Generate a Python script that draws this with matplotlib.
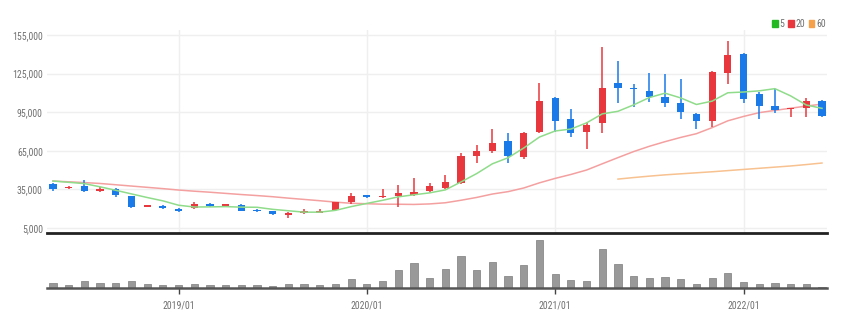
import numpy as np
import pandas as pd
import matplotlib
matplotlib.use("Agg")
import matplotlib.pyplot as plt
from matplotlib.patches import Patch

plt.rcParams['font.family'] = ['DejaVu Sans Condensed', 'Liberation Sans Narrow', 'Roboto Condensed', 'DejaVu Sans']

# monthly candles, 2018/05 - 2022/06
months = pd.date_range('2018-05-01', periods=50, freq='MS')
opens = [39000, 36000, 38000, 34000, 35000, 30000, 21500, 22000, 20000, 20500,
         23500, 22000, 23000, 19000, 18000, 15000, 16500, 17000, 19000, 25000,
         30500, 29000, 29500, 30500, 34000, 36000, 40000, 61000, 65000, 73000,
         60500, 79500, 106000, 89500, 79500, 86500, 118000, 114000, 111500, 107000,
         102000, 93500, 88000, 125500, 140000, 109000, 99500, 97500, 98000, 103500]
closes = [35500, 36500, 33500, 35500, 30500, 21500, 22500, 20500, 18500, 23500,
          22000, 23500, 18500, 18000, 15500, 16500, 18000, 18500, 25000, 30000,
          29000, 30000, 32000, 33000, 37500, 40500, 61000, 64500, 71000, 61000,
          78500, 103500, 88000, 78500, 85000, 113500, 113500, 113000, 107000, 102000,
          95000, 88000, 126000, 139500, 105000, 99500, 96500, 98000, 104000, 92000]
highs = [40000, 37500, 42000, 36500, 36000, 30000, 23000, 22500, 20500, 25000,
         24500, 24000, 24000, 19500, 18500, 17500, 20000, 19500, 25500, 32000,
         31000, 35000, 38500, 44000, 40000, 46000, 63000, 69500, 82000, 78500,
         80000, 118000, 107000, 97500, 87500, 145500, 134500, 117000, 125500, 124500,
         121000, 94000, 127000, 150500, 141000, 111000, 113000, 98500, 106000, 104500]
lows = [33500, 35000, 33000, 33000, 29000, 20500, 21000, 20000, 17500, 20000,
        21500, 22000, 18000, 17500, 15000, 13000, 16000, 16500, 18500, 24000,
        28500, 28000, 21500, 30000, 33000, 35000, 39000, 55500, 63000, 55500,
        58500, 78500, 79500, 75500, 66500, 79000, 102000, 99000, 103000, 99000,
        89500, 82000, 83500, 117000, 102000, 89500, 94000, 91000, 91000, 91500]
volumes = [5.0, 3.3, 6.7, 5.0, 5.0, 7.3, 4.0, 2.7, 2.7, 3.7,
           2.7, 2.7, 2.7, 2.7, 2.3, 4.0, 4.0, 2.7, 4.0, 8.7,
           4.0, 7.3, 18.3, 25.0, 10.0, 19.0, 31.7, 18.3, 26.0, 12.3,
           23.3, 48.3, 14.0, 8.0, 7.3, 39.0, 24.3, 11.7, 10.0, 10.7,
           8.7, 4.3, 9.7, 14.7, 6.0, 4.3, 5.3, 4.0, 4.0, 1.0]

# moving averages as shown on the chart
ma5 = [41500, 40500, 39500, 37000, 34300, 31500, 28700, 26100, 22700, 21300,
       21400, 21600, 21200, 21100, 19500, 18400, 17300, 17300, 18700, 21600,
       24100, 26500, 29200, 30800, 32300, 34600, 40800, 47300, 54900, 59600,
       67200, 75700, 80400, 81900, 86700, 93700, 95700, 100700, 106400, 109800,
       106100, 101000, 103600, 110100, 110700, 111600, 113300, 107700, 100600, 98000]
ma20 = [41500, 40900, 40300, 39600, 38600, 37600, 36600, 35600, 34500, 33600,
        32800, 31900, 31000, 30200, 29300, 28200, 27200, 26200, 25100, 24200,
        23850, 23500, 23450, 23300, 23700, 24600, 26550, 28750, 31400, 33250,
        36100, 40100, 43550, 46600, 50050, 54900, 59700, 64400, 68500, 72100,
        75400, 78300, 83000, 88300, 91700, 94650, 96400, 98100, 99750, 101300]
ma60 = [np.nan] * 36 + [43000, 44200, 45300, 46300, 47100, 47900, 48700,
                        49600, 50500, 51400, 52300, 53200, 54300, 55500]

up_color = '#e8383d'
down_color = '#1a7be8'
grid_color = '#efefef'
label_color = '#707070'

fig = plt.figure(figsize=(8.47, 3.24), dpi=100)
ax = fig.add_axes([47/847, 1-233/324, 780/847, 203/324])
axv = fig.add_axes([47/847, 1-288/324, 780/847, 52/324])

x = np.arange(len(months))
o = np.array(opens); c = np.array(closes)
colors = [up_color if cc >= oo else down_color for oo, cc in zip(o, c)]
bottoms = np.minimum(o, c)
heights = np.maximum(np.abs(c - o), 800)

ax.vlines(x, lows, highs, colors=colors, linewidth=1.1, zorder=3)
ax.bar(x, heights, bottom=bottoms, width=0.46, color=colors, zorder=4)

ax.plot(x, ma5, color='#8fdc8a', linewidth=1.1, zorder=5)
ax.plot(x, ma20, color='#f4a0a0', linewidth=1.1, zorder=2)
ax.plot(x, ma60, color='#f8c190', linewidth=1.1, zorder=2)

year_idx = [i for i, m in enumerate(months) if m.month == 1]
year_lbl = [months[i].strftime('%Y/%m') for i in year_idx]

ax.set_xlim(-0.38, 49.32)
ax.set_ylim(1100, 158900)
ax.set_yticks([5000, 35000, 65000, 95000, 125000, 155000])
ax.set_yticklabels(['5,000', '35,000', '65,000', '95,000', '125,000', '155,000'])
ax.tick_params(axis='y', length=0, labelsize=7, labelcolor=label_color, pad=3)
ax.set_xticks(year_idx)
ax.tick_params(axis='x', length=0, labelbottom=False)
ax.grid(True, color=grid_color, linewidth=1)
ax.set_axisbelow(True)
for s in ['top', 'right', 'left']:
    ax.spines[s].set_visible(False)
ax.spines['bottom'].set_color('#222222')
ax.spines['bottom'].set_linewidth(2)

leg = ax.legend(handles=[Patch(color='#22b922', label='5'),
                         Patch(color='#e8383d', label='20'),
                         Patch(color='#f5a04a', label='60')],
                loc='lower right', bbox_to_anchor=(1.0, 1.0), ncol=3, frameon=False,
                fontsize=7, handlelength=0.6, handleheight=0.8, handletextpad=0.2,
                columnspacing=0.35, borderaxespad=0.0, borderpad=0.1)
for t in leg.get_texts():
    t.set_color(label_color)

axv.bar(x, volumes, width=0.46, color='#999999', edgecolor='#8a8a8a', linewidth=0.6)
axv.set_xlim(-0.38, 49.32)
axv.set_ylim(0, 52)
axv.set_yticks([])
axv.set_xticks(year_idx)
axv.set_xticklabels(year_lbl)
axv.tick_params(axis='x', length=4, width=1, color='#444444', labelsize=7,
                labelcolor=label_color, pad=5)
for s in ['top', 'right', 'left']:
    axv.spines[s].set_visible(False)
axv.spines['bottom'].set_color('#555555')
axv.spines['bottom'].set_linewidth(1.8)

fig.savefig('out.png', dpi=100)
